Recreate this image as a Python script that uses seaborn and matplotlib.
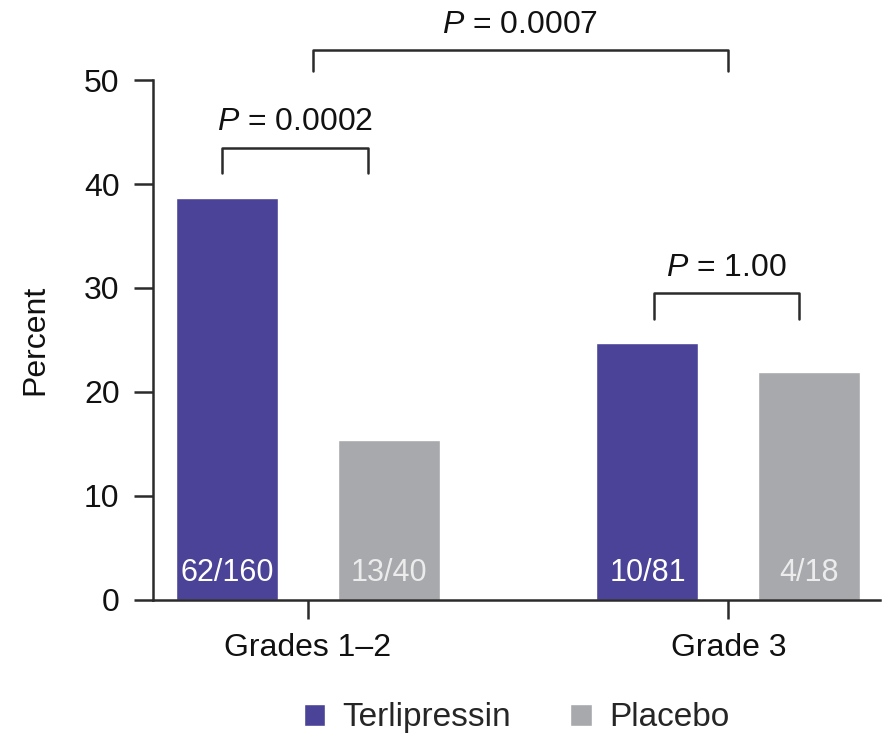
import pandas as pd
import matplotlib.pyplot as plt
import seaborn as sns

# donnees
grades = ["Grades 1–2", "Grade 3"]
treatments = ["Terlipressin", "Placebo"]
terli_pct = [38.7, 24.7]
placebo_pct = [15.4, 21.9]
terli_counts = ["62/160", "10/81"]
placebo_counts = ["13/40", "4/18"]

df = pd.DataFrame({
    "grade": grades * 2,
    "treatment": [treatments[0]] * 2 + [treatments[1]] * 2,
    "percent": terli_pct + placebo_pct,
})

sns.set_style("ticks")
plt.rcParams["font.family"] = ["Liberation Sans", "DejaVu Sans"]
plt.rcParams["mathtext.fontset"] = "custom"
plt.rcParams["mathtext.it"] = "Liberation Sans:italic"
plt.rcParams["mathtext.rm"] = "Liberation Sans"

fs = 23
dark = "#2b2b2b"

fig = plt.figure(figsize=(8.94, 7.35), dpi=100)
ax = fig.add_axes([0.171, 0.184, 0.813, 0.707])

sns.barplot(data=df, x="grade", y="percent", hue="treatment", order=grades,
            hue_order=treatments, palette=["#4a4397", "#a7a9ac"],
            saturation=1, width=0.77, gap=0.37, ax=ax)

ax.set_xlim(-0.369, 1.36)
ax.set_ylim(0, 50)
ax.set_yticks([0, 10, 20, 30, 40, 50])
ax.set_xlabel("")
ax.set_ylabel("Percent", fontsize=fs, labelpad=24, color="#111111")
ax.tick_params(axis="both", labelsize=fs, length=14, width=1.8, color=dark,
               pad=10, labelcolor="#111111")
for s in ["top", "right"]:
    ax.spines[s].set_visible(False)
for s in ["left", "bottom"]:
    ax.spines[s].set_linewidth(1.8)
    ax.spines[s].set_color(dark)

# effectifs en bas des barres
labels = [terli_counts, placebo_counts]
txt_colors = ["white", "#ececec"]
for cont, labs, c in zip(ax.containers, labels, txt_colors):
    for p, lab in zip(cont.patches, labs):
        ax.text(p.get_x() + p.get_width() / 2, 2.6, lab, ha="center",
                va="center", fontsize=fs - 1, color=c)

# crochets P
brackets = [
    (-0.205, 0.143, 43.5, 41.1, "$P$ = 0.0002"),
    (0.824, 1.169, 29.5, 27.0, "$P$ = 1.00"),
    (0.012, 0.998, 52.9, 50.9, "$P$ = 0.0007"),
]
for x1, x2, ytop, ybot, lab in brackets:
    ax.plot([x1, x1, x2, x2], [ybot, ytop, ytop, ybot], color=dark, lw=1.8,
            clip_on=False)
    ax.text((x1 + x2) / 2, ytop + 1.0, lab, ha="center", va="bottom",
            fontsize=fs, color="#111111", clip_on=False)

sns.move_legend(ax, "lower center", bbox_to_anchor=(0.5, -0.315), ncol=2,
                frameon=False, title=None, fontsize=fs + 1, handlelength=0.65,
                handleheight=0.65, handletextpad=0.5, columnspacing=1.8)

fig.savefig("out.png", dpi=100)
